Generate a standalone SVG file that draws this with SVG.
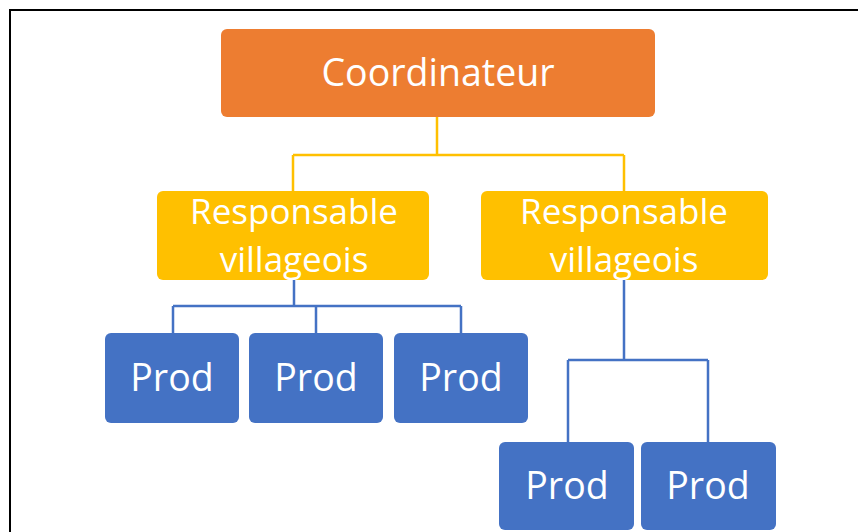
<svg xmlns="http://www.w3.org/2000/svg" width="858" height="532" viewBox="0 0 858 532">
  <style>
    .frame { fill: #ffffff; stroke: #000000; stroke-width: 2; }
    .coord { fill: #ED7D31; }
    .resp { fill: #FFC000; }
    .prod { fill: #4472C4; }
    .lbl { fill: #ffffff; font-family: "Open Sans", "Noto Sans", sans-serif; text-anchor: middle; font-size: 37.5px; }
    .two { font-size: 35px; }
    .yl { fill: none; stroke: #FFC000; stroke-width: 2.5; }
    .bl { fill: none; stroke: #4472C4; stroke-width: 2.5; }
  </style>
  <rect x="0" y="0" width="858" height="532" fill="#ffffff"/>
  <rect class="frame" x="10" y="10" width="860" height="540"/>

  <g id="connectors">
    <path class="yl" d="M437 117 V155 M293 155 H624 M293 155 V191 M624 155 V191"/>
    <path class="bl" d="M294 280 V306 M173 306 H461 M173 306 V333 M316 306 V333 M461 306 V333"/>
    <path class="bl" d="M624 280 V360 M568 360 H708 M568 360 V442 M708 360 V442"/>
  </g>

  <g id="coordinateur">
    <rect class="coord" x="221" y="29" width="434" height="88" rx="6"/>
    <text class="lbl" x="438" y="86">Coordinateur</text>
  </g>

  <g id="responsable-1">
    <rect class="resp" x="157" y="191" width="272" height="89" rx="6"/>
    <text class="lbl two" x="294" y="224">Responsable</text>
    <text class="lbl two" x="294" y="272">villageois</text>
  </g>
  <g id="responsable-2">
    <rect class="resp" x="481" y="191" width="287" height="89" rx="6"/>
    <text class="lbl two" x="624" y="224">Responsable</text>
    <text class="lbl two" x="624" y="272">villageois</text>
  </g>

  <g id="prod-1">
    <rect class="prod" x="105" y="333" width="134" height="90" rx="6"/>
    <text class="lbl" x="172" y="391">Prod</text>
  </g>
  <g id="prod-2">
    <rect class="prod" x="249" y="333" width="134" height="90" rx="6"/>
    <text class="lbl" x="316" y="391">Prod</text>
  </g>
  <g id="prod-3">
    <rect class="prod" x="394" y="333" width="134" height="90" rx="6"/>
    <text class="lbl" x="461" y="391">Prod</text>
  </g>
  <g id="prod-4">
    <rect class="prod" x="499" y="442" width="135" height="88" rx="6"/>
    <text class="lbl" x="567" y="499">Prod</text>
  </g>
  <g id="prod-5">
    <rect class="prod" x="641" y="442" width="135" height="88" rx="6"/>
    <text class="lbl" x="708" y="499">Prod</text>
  </g>
</svg>
